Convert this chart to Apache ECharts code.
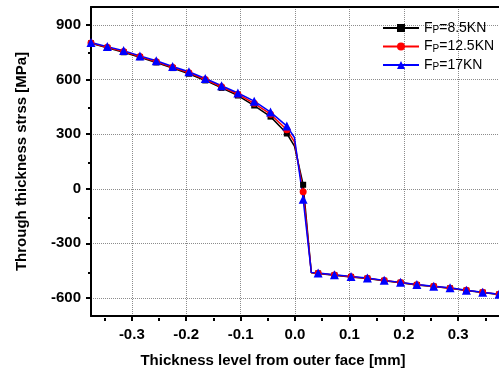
<!DOCTYPE html>
<html lang="en">
<head>
<meta charset="UTF-8">
<title>Through thickness stress</title>
<script src="https://cdn.jsdelivr.net/npm/echarts@6/dist/echarts.min.js"></script>
</head>
<body style="margin:0">
<div id="main" style="width:499px;height:373px;"></div>
<script type="text/javascript">
// data
var xs = [-0.375, -0.345, -0.315, -0.285, -0.255, -0.225, -0.195, -0.165, -0.135, -0.105, -0.075, -0.045, -0.015,
          -0.001, 0.015, 0.030,
          0.0425, 0.0725, 0.103, 0.133, 0.164, 0.194, 0.224, 0.255, 0.285, 0.315, 0.345, 0.375];
var yBlack = [800, 775, 751, 724, 695, 664, 633, 596, 555, 513, 458, 397, 304, 235, 22, -462,
              -466, -476, -485, -494, -506, -517, -529, -538, -548, -560, -571, -582];
var yRed = [802, 778, 755, 727, 699, 668, 638, 601, 561, 520, 470, 410, 325, 258, -16, -461,
            -465, -475, -484, -493, -505, -516, -528, -537, -547, -559, -570, -581];
var yBlue = [805, 782, 760, 731, 704, 673, 644, 607, 567, 527, 482, 422, 345, 282, -58, -460,
             -464, -473, -482, -491, -504, -515, -527, -536, -545, -558, -569, -580];
var noMarker = [13, 15]; // bend points drawn without a symbol
var names = ['8.5KN', '12.5KN', '17KN'];
var xTicks = [-0.3, -0.2, -0.1, 0.0, 0.1, 0.2, 0.3];
var xMinor = [-0.35, -0.25, -0.15, -0.05, 0.05, 0.15, 0.25, 0.35];
var yTicks = [-600, -300, 0, 300, 600, 900];
var yMinor = [-450, -150, 150, 450, 750];

function pts(ys) {
    return xs.map(function (x, i) {
        var d = { value: [x, ys[i]] };
        if (noMarker.indexOf(i) >= 0) d.symbol = 'none';
        return d;
    });
}

var myChart = echarts.init(document.getElementById('main'));
var font = 'Liberation Sans, Arial, sans-serif';
var box = { left: 91, top: 7, bottom: 55, right: -6 };
var dots = { show: true, lineStyle: { color: '#8c8c8c', type: 'dotted', width: 1 } };

var option = {
    animation: false,
    textStyle: { fontFamily: font },
    grid: [
        Object.assign({}, box),
        Object.assign({}, box) // second grid carries minor ticks and the top frame line
    ],
    legend: {
        orient: 'vertical',
        left: 377,
        top: 16,
        itemWidth: 36,
        itemHeight: 10,
        itemGap: 4,
        data: names,
        formatter: function (n) { return '{f|F}{s|P}{f|=' + n + '}'; },
        textStyle: {
            rich: {
                f: { fontSize: 14, color: '#000', fontFamily: font },
                s: { fontSize: 10, color: '#000', fontFamily: font, verticalAlign: 'bottom', padding: [5, 0, 0, 0] }
            }
        }
    },
    xAxis: [{
        type: 'value',
        min: -0.375,
        max: 0.375,
        name: 'Thickness level from outer face [mm]',
        nameLocation: 'middle',
        nameGap: 37,
        nameTextStyle: { fontSize: 15, fontWeight: 'bold', color: '#000', padding: [0, 44, 0, 0] },
        axisLine: { onZero: false, lineStyle: { color: '#000', width: 2 } },
        axisTick: { inside: false, length: 5, lineStyle: { width: 2 }, customValues: xTicks },
        axisLabel: {
            customValues: xTicks, margin: 11, fontSize: 15, fontWeight: 'bold', color: '#000',
            formatter: function (v) { return v.toFixed(1); }
        },
        splitLine: dots
    }, {
        type: 'value',
        gridIndex: 1,
        min: -0.375,
        max: 0.375,
        position: 'bottom',
        axisLine: { show: false, onZero: false },
        axisTick: { length: 3, lineStyle: { width: 2, color: '#000' }, customValues: xMinor },
        axisLabel: { show: false },
        splitLine: { show: false }
    }, {
        type: 'value',
        gridIndex: 1,
        min: -0.375,
        max: 0.375,
        position: 'top',
        axisLine: { show: true, onZero: false, lineStyle: { color: '#000', width: 2 } },
        axisTick: { show: false },
        axisLabel: { show: false },
        splitLine: { show: false }
    }],
    yAxis: [{
        type: 'value',
        min: -700,
        max: 1000,
        name: 'Through thickness strss [MPa]',
        nameLocation: 'middle',
        nameGap: 62,
        nameTextStyle: { fontSize: 15, fontWeight: 'bold', color: '#000' },
        axisLine: { onZero: false, lineStyle: { color: '#000', width: 2 } },
        axisTick: { inside: false, length: 5, lineStyle: { width: 2 }, customValues: yTicks },
        axisLabel: { customValues: yTicks, margin: 10, fontSize: 15, fontWeight: 'bold', color: '#000' },
        splitLine: dots
    }, {
        type: 'value',
        gridIndex: 1,
        min: -700,
        max: 1000,
        position: 'left',
        axisLine: { show: false, onZero: false },
        axisTick: { show: true, length: 3, lineStyle: { width: 2, color: '#000' }, customValues: yMinor },
        axisLabel: { show: false },
        splitLine: { show: false }
    }],
    series: [{
        name: names[0],
        type: 'line',
        data: pts(yBlack),
        color: '#000000',
        symbol: 'rect',
        symbolSize: 6,
        lineStyle: { width: 1.5 }
    }, {
        name: names[1],
        type: 'line',
        data: pts(yRed),
        color: '#ff0000',
        symbol: 'circle',
        symbolSize: 7,
        lineStyle: { width: 1.5 }
    }, {
        name: names[2],
        type: 'line',
        data: pts(yBlue),
        color: '#0000ff',
        symbol: 'triangle',
        symbolSize: 9,
        lineStyle: { width: 1.5 }
    }]
};

myChart.setOption(option);
</script>
</body>
</html>
